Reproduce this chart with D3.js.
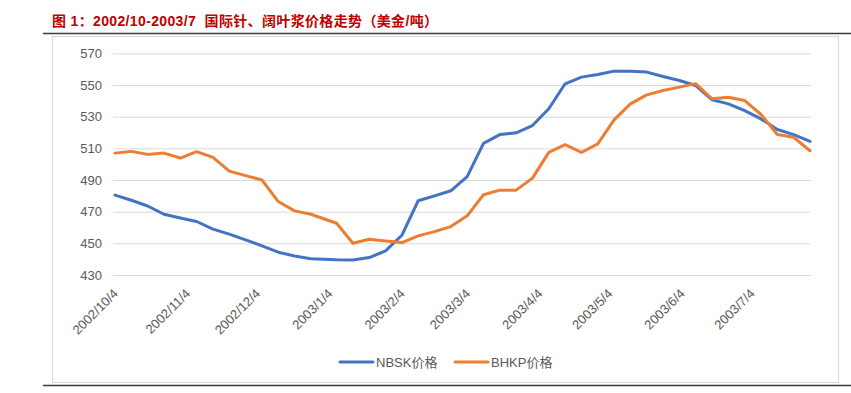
<!DOCTYPE html>
<html>
<head>
<meta charset="utf-8">
<script src="https://cdn.jsdelivr.net/npm/d3@7"></script>
<style>
  html, body { margin: 0; padding: 0; background: #ffffff; }
  svg { display: block; }
</style>
</head>
<body>
<svg id="chart"></svg>
<script>
// weekly observation dates
const dates = [
  "2002-10-04", "2002-10-11", "2002-10-18", "2002-10-25", "2002-11-01", "2002-11-08",
  "2002-11-15", "2002-11-22", "2002-11-29", "2002-12-06", "2002-12-13", "2002-12-20",
  "2002-12-27", "2003-01-07", "2003-01-14", "2003-01-21", "2003-01-28", "2003-02-04",
  "2003-02-11", "2003-02-18", "2003-02-25", "2003-03-04", "2003-03-11", "2003-03-18",
  "2003-03-25", "2003-04-01", "2003-04-08", "2003-04-15", "2003-04-22", "2003-04-29",
  "2003-05-06", "2003-05-13", "2003-05-20", "2003-05-27", "2003-06-03", "2003-06-10",
  "2003-06-17", "2003-06-24", "2003-07-01", "2003-07-08", "2003-07-15", "2003-07-22",
  "2003-07-29"
];

const nbsk = [
  480.5, 477.2, 473.6, 468.4, 466.0, 463.8, 459.0, 455.8, 452.2, 448.4, 444.4, 442.0,
  440.3, 439.6, 439.5, 441.0, 445.2, 455.1, 476.9, 480.0, 483.2, 492.1, 513.2, 518.7,
  519.8, 524.4, 535.0, 550.8, 555.0, 556.7, 558.8, 558.8, 558.2, 555.4, 552.9, 549.7,
  540.7, 538.1, 533.9, 528.6, 521.9, 518.7, 514.4
];

const bhkp = [
  507.0, 508.1, 506.2, 507.0, 503.9, 507.9, 504.3, 495.6, 492.8, 490.0, 476.4, 470.5,
  468.4, 462.7, 450.1, 452.6, 451.5, 450.5, 454.7, 457.4, 460.6, 467.4, 480.7, 483.6,
  483.6, 491.2, 507.5, 512.3, 507.5, 512.8, 528.0, 538.1, 543.8, 546.6, 548.7, 550.9,
  541.3, 542.3, 540.2, 531.4, 518.7, 517.0, 508.5
];

const yTicks = [430, 450, 470, 490, 510, 530, 550, 570];

const xTickDates = [
  "2002-10-04", "2002-11-04", "2002-12-04", "2003-01-04", "2003-02-04",
  "2003-03-04", "2003-04-04", "2003-05-04", "2003-06-04", "2003-07-04"
];
const xTickLabels = [
  "2002/10/4", "2002/11/4", "2002/12/4", "2003/1/4", "2003/2/4",
  "2003/3/4", "2003/4/4", "2003/5/4", "2003/6/4", "2003/7/4"
];

const seriesNames = ["NBSK价格", "BHKP价格"];
const seriesColors = ["#4472C4", "#ED7D31"];

const titleText = "图 1：2002/10-2003/7  国际针、阔叶浆价格走势（美金/吨）";

const width = 851, height = 393;
const fontFamily = "'Liberation Sans', Arial, 'Noto Sans CJK SC', sans-serif";
const labelColor = "#595959";
const gridColor = "#D9D9D9";

const parse = d3.timeParse("%Y-%m-%d");
const dateObjs = dates.map(parse);

const svg = d3.select("#chart")
  .attr("width", width)
  .attr("height", height)
  .style("font-family", fontFamily);

// title
svg.append("text")
  .attr("x", 52)
  .attr("y", 26)
  .attr("fill", "#C00000")
  .attr("font-size", 14)
  .attr("font-weight", "bold")
  .attr("letter-spacing", 0.35)
  .style("white-space", "pre")
  .text(titleText);

svg.append("line")
  .attr("x1", 43).attr("x2", width)
  .attr("y1", 33.5).attr("y2", 33.5)
  .attr("stroke", "#3a3a3a")
  .attr("stroke-width", 1.5);

// chart frame
svg.append("rect")
  .attr("x", 52.5).attr("y", 36.5)
  .attr("width", 786).attr("height", 346)
  .attr("fill", "none")
  .attr("stroke", gridColor)
  .attr("stroke-width", 1);

svg.append("line")
  .attr("x1", 43).attr("x2", width)
  .attr("y1", 385.5).attr("y2", 385.5)
  .attr("stroke", "#3a3a3a")
  .attr("stroke-width", 1.5);

const x = d3.scaleTime()
  .domain([dateObjs[0], dateObjs[dateObjs.length - 1]])
  .range([115, 810]);

const y = d3.scaleLinear()
  .domain([430, 570])
  .range([275, 53.4]);

// gridlines + y labels
const yAxis = d3.axisLeft(y)
  .tickValues(yTicks)
  .tickSize(-(811 - 113))
  .tickPadding(11)
  .tickFormat(d3.format("d"));

const gy = svg.append("g")
  .attr("transform", "translate(113,0)")
  .call(yAxis);
gy.select(".domain").remove();
gy.selectAll(".tick line")
  .attr("stroke", gridColor)
  .attr("stroke-width", 1);
gy.selectAll(".tick text")
  .attr("fill", labelColor)
  .attr("font-size", 13)
  .attr("font-family", fontFamily);

// x labels
const xAxis = d3.axisBottom(x)
  .tickValues(xTickDates.map(parse))
  .tickSize(0)
  .tickFormat((d, i) => xTickLabels[i]);

const gx = svg.append("g")
  .attr("transform", "translate(-2,289)")
  .call(xAxis);
gx.select(".domain").remove();
gx.selectAll(".tick text")
  .attr("fill", labelColor)
  .attr("font-size", 13)
  .attr("font-family", fontFamily)
  .attr("text-anchor", "end")
  .attr("dy", "0.35em")
  .attr("transform", "rotate(-45)");

// lines
const allSeries = [nbsk, bhkp];
const line = d3.line()
  .x((d, i) => x(dateObjs[i]))
  .y(d => y(d));

svg.append("g")
  .selectAll("path")
  .data(allSeries)
  .join("path")
  .attr("d", d => line(d))
  .attr("fill", "none")
  .attr("stroke", (d, i) => seriesColors[i])
  .attr("stroke-width", 3)
  .attr("stroke-linejoin", "round")
  .attr("stroke-linecap", "round");

// legend
const legendX = [340, 455];
const legend = svg.append("g")
  .selectAll("g")
  .data(seriesNames)
  .join("g")
  .attr("transform", (d, i) => `translate(${legendX[i]},362)`);
legend.append("line")
  .attr("x1", 0).attr("x2", 33)
  .attr("stroke", (d, i) => seriesColors[i])
  .attr("stroke-width", 3)
  .attr("stroke-linecap", "round");
legend.append("text")
  .attr("x", 36)
  .attr("dy", "0.35em")
  .attr("fill", labelColor)
  .attr("font-size", 13)
  .text(d => d);
</script>
</body>
</html>
